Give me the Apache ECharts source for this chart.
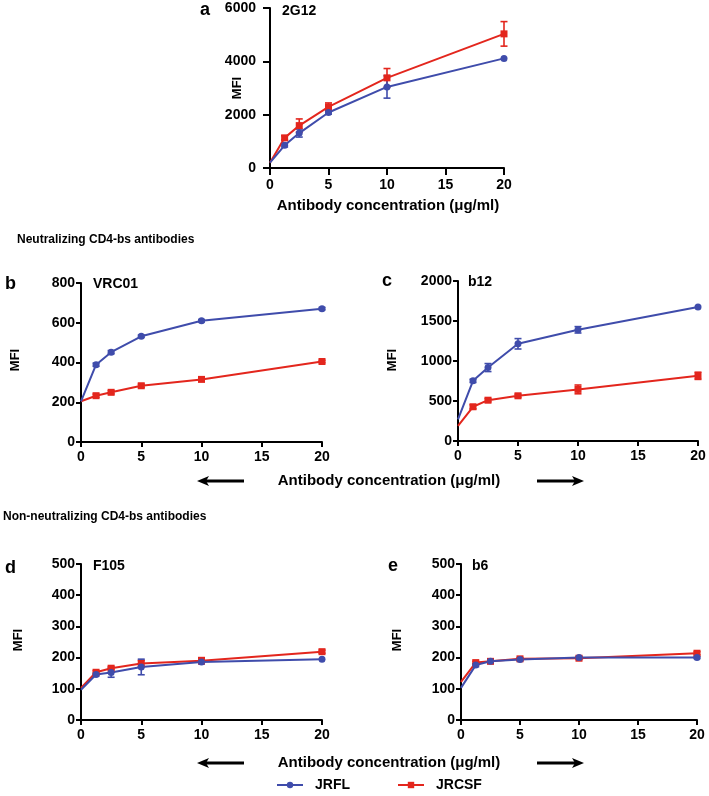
<!DOCTYPE html>
<html>
<head>
<meta charset="utf-8">
<script src="https://cdn.jsdelivr.net/npm/echarts@6/dist/echarts.min.js"></script>
<style>
html,body{margin:0;padding:0;background:#fff;}
#chart{width:709px;height:796px;}
</style>
</head>
<body>
<div id="chart"></div>
<script>
// ---- data ----
const conc = [0, 1.25, 2.5, 5, 10, 20];

const a_JRFL = [200, 850, 1310, 2080, 3040, 4110];
const a_JRFL_err = [0, 60, 150, 60, 420, 0];
const a_JRCSF = [200, 1130, 1590, 2290, 3380, 5030];
const a_JRCSF_err = [0, 80, 250, 150, 350, 460];

const b_JRFL = [205, 389, 452, 532, 610, 671];
const b_JRFL_err = [0, 8, 8, 6, 6, 6];
const b_JRCSF = [205, 233, 250, 283, 315, 405];
const b_JRCSF_err = [0, 8, 8, 8, 6, 6];

const c_JRFL = [270, 752, 918, 1215, 1390, 1675];
const c_JRFL_err = [0, 20, 50, 65, 40, 0];
const c_JRCSF = [190, 428, 510, 565, 645, 815];
const c_JRCSF_err = [0, 25, 20, 20, 55, 45];

const d_JRFL = [97, 146, 152, 170, 186, 195];
const d_JRFL_err = [0, 5, 15, 25, 5, 0];
const d_JRCSF = [103, 153, 166, 181, 190, 219];
const d_JRCSF_err = [0, 5, 5, 10, 10, 5];

const e_JRFL = [103, 176, 188, 194, 200, 200];
const e_JRFL_err = [0, 5, 4, 4, 4, 3];
const e_JRCSF = [122, 184, 188, 196, 198, 214];
const e_JRCSF_err = [0, 4, 4, 4, 4, 5];

const xTicks = {min: 0, max: 20, interval: 5};
const yScales = [
  {max: 6000, interval: 2000},
  {max: 800, interval: 200},
  {max: 2000, interval: 500},
  {max: 500, interval: 100},
  {max: 500, interval: 100}
];
const antibodies = ['2G12', 'VRC01', 'b12', 'F105', 'b6'];
const panelLetters = ['a', 'b', 'c', 'd', 'e'];
const seriesNames = ['JRFL', 'JRCSF'];
const xAxisTitle = 'Antibody concentration (\u03bcg/ml)';
const heading1 = 'Neutralizing CD4-bs antibodies';
const heading2 = 'Non-neutralizing CD4-bs antibodies';

const panels = [
  {jrfl: a_JRFL, jrflErr: a_JRFL_err, jrcsf: a_JRCSF, jrcsfErr: a_JRCSF_err},
  {jrfl: b_JRFL, jrflErr: b_JRFL_err, jrcsf: b_JRCSF, jrcsfErr: b_JRCSF_err},
  {jrfl: c_JRFL, jrflErr: c_JRFL_err, jrcsf: c_JRCSF, jrcsfErr: c_JRCSF_err},
  {jrfl: d_JRFL, jrflErr: d_JRFL_err, jrcsf: d_JRCSF, jrcsfErr: d_JRCSF_err},
  {jrfl: e_JRFL, jrflErr: e_JRFL_err, jrcsf: e_JRCSF, jrcsfErr: e_JRCSF_err}
];

// ---- layout / style ----
const BLUE = '#3f4cab';
const RED = '#e3261d';
const FONT = '"Liberation Sans", Arial, sans-serif';
const grids = [
  {left: 270, top: 8, width: 234, height: 160},
  {left: 81, top: 283, width: 241, height: 159},
  {left: 458, top: 281, width: 240, height: 160},
  {left: 81, top: 564, width: 241, height: 156},
  {left: 461, top: 564, width: 236, height: 156}
];
const yLabelMargins = [14, 6, 6, 6, 6];
const xLabelMargins = [10, 8, 8, 8, 8];
const tickLens = [7, 5, 5, 5, 5];

function makeAxisStyle(margin, tickLen) {
  return {
    axisLine: {show: true, onZero: false, lineStyle: {color: '#000', width: 2}},
    axisTick: {show: true, inside: false, length: tickLen, lineStyle: {color: '#000', width: 2}},
    axisLabel: {color: '#000', fontFamily: FONT, fontWeight: 'bold', fontSize: 14, margin: margin,
      formatter: (v) => String(v)},
    splitLine: {show: false}
  };
}

const xAxes = grids.map((g, i) => Object.assign({
  type: 'value', gridIndex: i, min: xTicks.min, max: xTicks.max, interval: xTicks.interval
}, makeAxisStyle(xLabelMargins[i], tickLens[i])));

const yAxes = grids.map((g, i) => Object.assign({
  type: 'value', gridIndex: i, min: 0, max: yScales[i].max, interval: yScales[i].interval
}, makeAxisStyle(yLabelMargins[i], tickLens[i])));

function errRender(color) {
  return function (params, api) {
    const x = api.value(0), y = api.value(1), e = api.value(2);
    if (!e) return null;
    const top = api.coord([x, y + e]);
    const bot = api.coord([x, y - e]);
    const w = 3.5;
    const st = {stroke: color, lineWidth: 1.6};
    return {
      type: 'group',
      children: [
        {type: 'line', shape: {x1: top[0], y1: top[1], x2: bot[0], y2: bot[1]}, style: st},
        {type: 'line', shape: {x1: top[0] - w, y1: top[1], x2: top[0] + w, y2: top[1]}, style: st},
        {type: 'line', shape: {x1: bot[0] - w, y1: bot[1], x2: bot[0] + w, y2: bot[1]}, style: st}
      ]
    };
  };
}

const series = [];
panels.forEach((p, i) => {
  const defs = [
    {name: 'JRCSF', vals: p.jrcsf, err: p.jrcsfErr, color: RED, symbol: 'rect'},
    {name: 'JRFL', vals: p.jrfl, err: p.jrflErr, color: BLUE, symbol: 'circle'}
  ];
  defs.forEach(d => {
    series.push({
      type: 'custom', name: d.name + '_err', xAxisIndex: i, yAxisIndex: i,
      renderItem: errRender(d.color),
      data: conc.map((c, k) => [c, d.vals[k], d.err[k]]),
      z: 3, silent: true
    });
    series.push({
      type: 'line', name: d.name, xAxisIndex: i, yAxisIndex: i,
      data: conc.map((c, k) => [c, d.vals[k]]),
      symbol: d.symbol,
      symbolSize: (v) => v[0] === 0 ? 0 : 7,
      showSymbol: true,
      lineStyle: {color: d.color, width: 2},
      itemStyle: {color: d.color},
      z: 4, clip: false, animation: false
    });
  });
});

function txt(x, y, text, opts) {
  return {
    type: 'text', x: x, y: y,
    style: Object.assign({text: text, fill: '#000', font: 'bold 14px ' + FONT, textAlign: 'left', textVerticalAlign: 'middle'}, opts || {})
  };
}
function mfi(x, y) {
  return {type: 'text', x: x, y: y, rotation: Math.PI / 2,
    style: {text: 'MFI', fill: '#000', font: 'bold 13px ' + FONT, textAlign: 'center', textVerticalAlign: 'middle'}};
}
function arrow(x1, x2, y, dir) {
  const head = dir < 0 ? x1 : x2;
  const tail = dir < 0 ? x2 : x1;
  return {
    type: 'group',
    children: [
      {type: 'line', shape: {x1: tail, y1: y, x2: head - dir * 8, y2: y}, style: {stroke: '#000', lineWidth: 3}},
      {type: 'polygon', shape: {points: [[head, y], [head - dir * 12, y - 5], [head - dir * 9, y], [head - dir * 12, y + 5]]}, style: {fill: '#000'}}
    ]
  };
}

const graphics = [
  txt(200, 10, panelLetters[0], {font: 'bold 18px ' + FONT}),
  txt(282, 11, antibodies[0]),
  mfi(237, 88),
  txt(388, 206, xAxisTitle, {textAlign: 'center', font: 'bold 15px ' + FONT}),
  txt(17, 240, heading1, {font: 'bold 12px ' + FONT}),
  txt(5, 284, panelLetters[1], {font: 'bold 18px ' + FONT}),
  txt(93, 284, antibodies[1]),
  mfi(15, 360),
  txt(382, 281, panelLetters[2], {font: 'bold 18px ' + FONT}),
  txt(468, 282, antibodies[2]),
  mfi(392, 360),
  txt(389, 481, xAxisTitle, {textAlign: 'center', font: 'bold 15px ' + FONT}),
  arrow(197, 244, 481, -1),
  arrow(537, 584, 481, 1),
  txt(3, 517, heading2, {font: 'bold 12px ' + FONT}),
  txt(5, 568, panelLetters[3], {font: 'bold 18px ' + FONT}),
  txt(93, 566, antibodies[3]),
  mfi(18, 640),
  txt(388, 566, panelLetters[4], {font: 'bold 18px ' + FONT}),
  txt(472, 566, antibodies[4]),
  mfi(397, 640),
  txt(389, 763, xAxisTitle, {textAlign: 'center', font: 'bold 15px ' + FONT}),
  arrow(197, 244, 763, -1),
  arrow(537, 584, 763, 1)
];

const chart = echarts.init(document.getElementById('chart'), null, {renderer: 'canvas'});
chart.setOption({
  animation: false,
  backgroundColor: '#fff',
  grid: grids,
  xAxis: xAxes,
  yAxis: yAxes,
  legend: {
    data: seriesNames,
    left: 271, top: 773,
    itemWidth: 26, itemHeight: 8, itemGap: 47,
    textStyle: {color: '#000', fontFamily: FONT, fontWeight: 'bold', fontSize: 14, padding: [0, 0, 0, 7]},
    selectedMode: false
  },
  graphic: graphics,
  series: series
});
</script>
</body>
</html>
